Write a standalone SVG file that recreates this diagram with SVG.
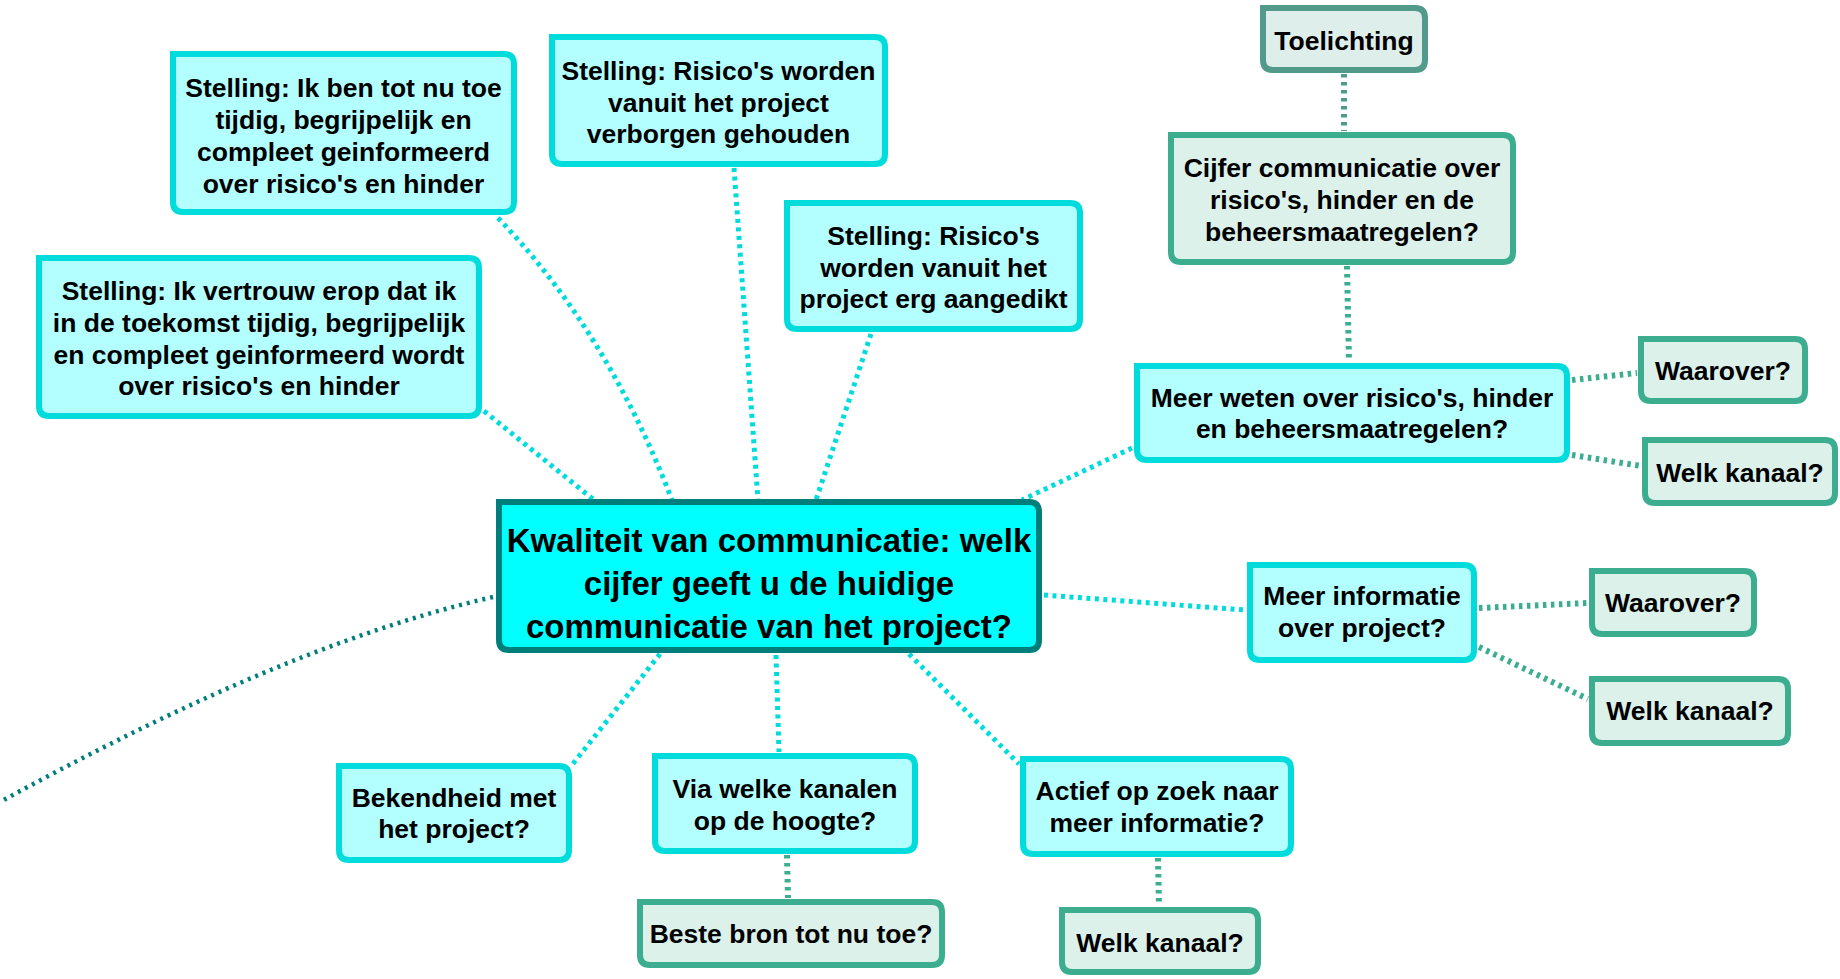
<svg xmlns="http://www.w3.org/2000/svg" width="1840" height="979" viewBox="0 0 1840 979">
<style>
text{font-family:"Liberation Sans",Arial,Helvetica,sans-serif;font-weight:bold;fill:#000;text-anchor:middle;font-size:26.5px}
.main text{font-size:33px}
.cy path{fill:#B3FFFF;stroke:#00DCDC;stroke-width:6}
.gr path{fill:#DBF1EA;stroke:#3DAD8F;stroke-width:6}
.tl path{fill:#DEEEEA;stroke:#529A89;stroke-width:6}
.main path{fill:#00FFFF;stroke:#007E7B;stroke-width:6}
.c{fill:none;stroke:#00DCDC;stroke-width:5;stroke-dasharray:4 4.5}
.g{fill:none;stroke:#3DAD8F;stroke-width:6;stroke-dasharray:3.5 4.5}
.t{fill:none;stroke:#529A89;stroke-width:6;stroke-dasharray:3.5 4.5}
.d{fill:none;stroke:#007E7B;stroke-width:4.5;stroke-dasharray:3 5}
</style>
<g id="connectors">
<path class="d" d="M493,597 C323,636 150,720 0,802"/>
<path class="c" d="M498,218 Q607,331 672,500"/>
<path class="c" d="M484,411 L594,500"/>
<path class="c" d="M734,168 L758,500"/>
<path class="c" d="M871,334 L816,500"/>
<path class="c" d="M1132,448 L1022,500"/>
<path class="c" d="M1044,595 L1245,610"/>
<path class="c" d="M909,654 L1019,764"/>
<path class="c" d="M776,655 L779,752"/>
<path class="c" d="M660,654 L572,765"/>
<path class="t" d="M1344,74 L1344,131"/>
<path class="g" d="M1347,266 L1349,362"/>
<path class="g" d="M1572,380 L1637,373"/>
<path class="g" d="M1572,455 L1641,466"/>
<path class="g" d="M1479,608 L1588,603"/>
<path class="g" d="M1479,647 L1588,699"/>
<path class="g" d="M1158,858 L1159,906"/>
<path class="g" d="M787,855 L788,898"/>
</g>
<g id="n-main" class="main">
<path d="M499,502 H1029 Q1039,502 1039,512 V640 Q1039,650 1029,650 H509 Q499,650 499,640 Z"/>
<text x="769" y="552">Kwaliteit van communicatie: welk</text>
<text x="769" y="595">cijfer geeft u de huidige</text>
<text x="769" y="638">communicatie van het project?</text>
</g>
<g id="n-ikben" class="cy">
<path d="M173,54 H504 Q514,54 514,64 V202 Q514,212 504,212 H183 Q173,212 173,202 Z"/>
<text x="343.5" y="97">Stelling: Ik ben tot nu toe</text>
<text x="343.5" y="129">tijdig, begrijpelijk en</text>
<text x="343.5" y="161">compleet geinformeerd</text>
<text x="343.5" y="193">over risico's en hinder</text>
</g>
<g id="n-verborgen" class="cy">
<path d="M552,37 H875 Q885,37 885,47 V154 Q885,164 875,164 H562 Q552,164 552,154 Z"/>
<text x="718.5" y="80">Stelling: Risico's worden</text>
<text x="718.5" y="112">vanuit het project</text>
<text x="718.5" y="143">verborgen gehouden</text>
</g>
<g id="n-vertrouw" class="cy">
<path d="M39,258 H469 Q479,258 479,268 V406 Q479,416 469,416 H49 Q39,416 39,406 Z"/>
<text x="259" y="300">Stelling: Ik vertrouw erop dat ik</text>
<text x="259" y="332">in de toekomst tijdig, begrijpelijk</text>
<text x="259" y="364">en compleet geinformeerd wordt</text>
<text x="259" y="395">over risico's en hinder</text>
</g>
<g id="n-aangedikt" class="cy">
<path d="M787,203 H1070 Q1080,203 1080,213 V319 Q1080,329 1070,329 H797 Q787,329 787,319 Z"/>
<text x="933.5" y="245">Stelling: Risico's</text>
<text x="933.5" y="277">worden vanuit het</text>
<text x="933.5" y="308">project erg aangedikt</text>
</g>
<g id="n-toelichting" class="tl">
<path d="M1263,8 H1415 Q1425,8 1425,18 V60 Q1425,70 1415,70 H1273 Q1263,70 1263,60 Z"/>
<text x="1344" y="50">Toelichting</text>
</g>
<g id="n-cijfer" class="gr">
<path d="M1171,135 H1503 Q1513,135 1513,145 V252 Q1513,262 1503,262 H1181 Q1171,262 1171,252 Z"/>
<text x="1342" y="177">Cijfer communicatie over</text>
<text x="1342" y="209">risico's, hinder en de</text>
<text x="1342" y="241">beheersmaatregelen?</text>
</g>
<g id="n-meerweten" class="cy">
<path d="M1137,366 H1557 Q1567,366 1567,376 V450 Q1567,460 1557,460 H1147 Q1137,460 1137,450 Z"/>
<text x="1352" y="407">Meer weten over risico's, hinder</text>
<text x="1352" y="438">en beheersmaatregelen?</text>
</g>
<g id="n-waarover1" class="gr">
<path d="M1641,339 H1795 Q1805,339 1805,349 V391 Q1805,401 1795,401 H1651 Q1641,401 1641,391 Z"/>
<text x="1723" y="380">Waarover?</text>
</g>
<g id="n-kanaal1" class="gr">
<path d="M1645,440 H1825 Q1835,440 1835,450 V493 Q1835,503 1825,503 H1655 Q1645,503 1645,493 Z"/>
<text x="1740" y="482">Welk kanaal?</text>
</g>
<g id="n-meerinfo" class="cy">
<path d="M1250,565 H1464 Q1474,565 1474,575 V650 Q1474,660 1464,660 H1260 Q1250,660 1250,650 Z"/>
<text x="1362" y="605">Meer informatie</text>
<text x="1362" y="637">over project?</text>
</g>
<g id="n-waarover2" class="gr">
<path d="M1592,571 H1744 Q1754,571 1754,581 V624 Q1754,634 1744,634 H1602 Q1592,634 1592,624 Z"/>
<text x="1673" y="612">Waarover?</text>
</g>
<g id="n-kanaal2" class="gr">
<path d="M1592,679 H1778 Q1788,679 1788,689 V733 Q1788,743 1778,743 H1602 Q1592,743 1592,733 Z"/>
<text x="1690" y="720">Welk kanaal?</text>
</g>
<g id="n-actief" class="cy">
<path d="M1023,759 H1281 Q1291,759 1291,769 V844 Q1291,854 1281,854 H1033 Q1023,854 1023,844 Z"/>
<text x="1157" y="800">Actief op zoek naar</text>
<text x="1157" y="832">meer informatie?</text>
</g>
<g id="n-kanaal3" class="gr">
<path d="M1062,910 H1248 Q1258,910 1258,920 V962 Q1258,972 1248,972 H1072 Q1062,972 1062,962 Z"/>
<text x="1160" y="952">Welk kanaal?</text>
</g>
<g id="n-via" class="cy">
<path d="M655,756 H905 Q915,756 915,766 V841 Q915,851 905,851 H665 Q655,851 655,841 Z"/>
<text x="785" y="798">Via welke kanalen</text>
<text x="785" y="830">op de hoogte?</text>
</g>
<g id="n-beste" class="gr">
<path d="M640,902 H932 Q942,902 942,912 V955 Q942,965 932,965 H650 Q640,965 640,955 Z"/>
<text x="791" y="943">Beste bron tot nu toe?</text>
</g>
<g id="n-bekendheid" class="cy">
<path d="M339,766 H559 Q569,766 569,776 V850 Q569,860 559,860 H349 Q339,860 339,850 Z"/>
<text x="454" y="807">Bekendheid met</text>
<text x="454" y="838">het project?</text>
</g>
</svg>
